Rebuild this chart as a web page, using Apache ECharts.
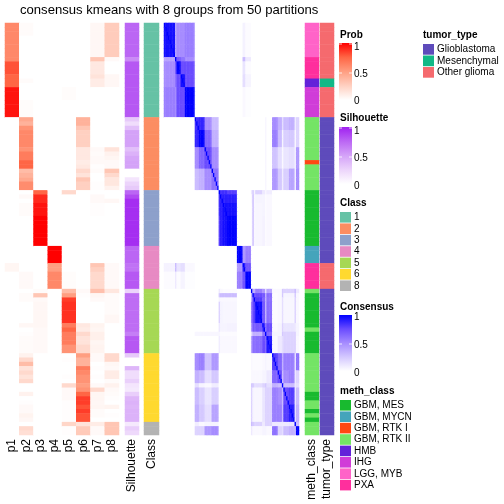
<!DOCTYPE html>
<html><head><meta charset="utf-8">
<style>html,body{margin:0;padding:0;background:#fff}#c{width:504px;height:504px}</style>
<script src="https://cdn.jsdelivr.net/npm/echarts@6/dist/echarts.min.js"></script>
</head><body><div id="c"></div>
<script>
const titleText = "consensus kmeans with 8 groups from 50 partitions";
const probNames = ["p1","p2","p3","p4","p5","p6","p7","p8"];
// one line per class block: rows 22 / 17 / 13 / 10 / 15 / 16 / 3
const p1 = [.6,.6,.6,.6,.6,.6,.6,.6,.6,.8,.8,.8,.75,.75,.75,.95,.95,.95,.95,.95,.95,.95,
 0,0,0,0,0,0,0,0,0,0,0,0,0,0,0,0,0,
 0,0,0,0,0,0,0,0,0,0,0,0,0,
 0,0,0,0,.05,.05,0,0,0,0,
 0,0,0,0,0,0,0,0,0,0,0,0,0,0,0,
 0,0,0,0,0,0,0,0,0,0,0,0,0,0,0,0,
 0,0,0];
const p2 = [.02,.02,.02,0,0,0,0,0,0,0,0,0,0,.02,0,0,0,0,.015,.015,.015,.015,
 .45,.4,.55,.6,.6,.6,.6,.55,.65,.65,.75,.75,.35,.4,.45,.58,.58,
 0,.03,0,.02,.02,.02,0,0,0,0,0,0,0,
 0,0,0,0,0,0,.03,.03,.03,.03,
 0,.02,.02,0,0,0,0,0,.04,0,.01,.02,.02,.02,.02,
 .07,.2,.35,.15,.2,.15,.2,0,0,.07,0,.01,.03,.03,.06,.04,
 0,.2,.17];
const p3 = [0,0,0,0,0,0,0,0,0,0,0,0,0,0,0,0,0,0,0,0,0,0,
 0,0,0,0,0,0,0,0,0,0,0,0,0,0,0,0,0,
 .75,.9,.9,.95,.95,.95,1,1,1,1,1,1,1,
 0,0,0,0,0,0,0,0,0,0,
 .02,.3,.03,.04,.04,.04,.04,.04,.04,.03,.03,.03,.03,.03,.03,
 0,0,0,0,0,0,0,0,0,0,0,0,0,0,0,0,
 0,0,0];
const p4 = [0,0,0,0,0,0,0,0,0,0,0,0,0,0,0,0,0,0,0,0,0,0,
 0,0,0,0,0,0,0,0,0,0,0,0,0,0,0,0,0,
 0,0,0,0,0,0,0,0,0,0,0,0,0,
 1,1,1,1,.5,.5,.6,.6,.6,.6,
 0,0,0,0,0,0,0,0,0,0,0,0,0,0,0,
 0,0,0,0,0,0,0,0,0,0,0,0,0,0,0,0,
 0,0,0];
const p5 = [0,0,0,0,0,0,0,0,0,0,0,0,0,0,0,.015,.015,.015,0,0,0,0,
 0,0,0,0,0,0,0,0,0,0,0,0,0,0,0,0,0,
 .2,0,0,0,0,0,0,0,0,0,0,0,0,
 0,0,0,0,0,0,.015,.015,.015,.015,
 .35,.5,.85,.88,.88,.88,.88,.88,.65,.75,.65,.65,.65,.55,.55,
 0,.01,0,0,0,.01,0,.2,.03,.03,.03,.01,.01,.01,.01,.01,
 .22,.01,.01];
const p6 = [0,0,0,0,0,0,0,0,0,0,0,0,0,0,0,0,0,0,0,0,0,0,
 .4,.4,.3,.25,.25,.25,.25,.12,.12,.12,.1,.12,.2,.15,.3,.25,.25,
 0,0,0,0,0,0,0,0,0,0,0,0,0,
 0,0,0,0,0,0,0,0,0,0,
 .03,.01,0,0,0,0,0,0,.12,.1,.2,.15,.15,.2,.2,
 .5,.4,.4,.65,.6,.55,.55,.5,.55,.75,.85,.85,.8,.85,.8,.8,
 .15,.28,.28];
const p7 = [.04,.04,.04,.04,.04,.04,.04,.04,.3,.12,.12,.12,.15,.1,.1,0,0,0,0,0,0,0,
 0,0,0,0,0,0,0,.03,.02,.03,.03,.01,.02,0,0,.01,.01,
 0,.03,.03,.01,.01,.01,0,0,0,0,0,0,0,
 0,0,0,0,.3,.25,.2,.2,.2,.2,
 .33,.05,.03,0,0,0,0,0,.06,.05,.08,.08,.05,.06,.06,
 .03,.03,0,.01,0,.01,0,.03,.2,.05,.05,.04,.05,.02,.02,0,
 .1,.03,.03];
const p8 = [.27,.27,.27,.27,.27,.27,.27,.27,.03,0,0,0,.04,.04,.04,0,0,0,0,0,0,0,
 0,0,0,0,0,0,0,.15,.07,.05,.03,.03,.3,.2,.13,.13,.07,
 0,0,.04,0,0,0,0,0,0,0,0,0,0,
 0,0,0,0,.03,.03,.03,.03,.03,.03,
 .13,.02,.02,.02,.02,.02,.04,.04,0,0,0,0,0,0,0,
 .2,.2,.04,.03,.1,.1,.02,.07,.03,.02,.01,0,.06,0,.01,0,
 .3,.3,.3];
const silhouette = [.75,.75,.75,.75,.75,.75,.75,.75,.6,.8,.8,.8,.8,.8,.8,.8,.8,.8,.8,.8,.8,.8,
 .3,.2,.35,.5,.5,.5,.5,.35,.42,.48,.5,.5,0,0,.15,.25,.3,
 .75,.85,.95,.95,.95,.95,.95,.95,.95,.95,.95,.95,.95,
 .75,.75,.75,.75,.7,.7,.8,.8,.8,.8,
 .25,.72,.72,.72,.72,.72,.72,.72,.72,.72,.65,.8,.8,.8,.8,
 .3,0,0,.4,.2,.2,.27,.15,.13,.28,.4,.42,.4,.42,.42,.42,
 .13,.28,.22];
const classNames = ["1","2","3","4","5","6","8"];
const classColors = ["#66C2A5","#FC8D62","#8DA0CB","#E78AC3","#A6D854","#FFD92F","#B3B3B3"];
const classSizes = [22,17,13,10,15,16,3];
const methNames = ["GBM, MES","GBM, MYCN","GBM, RTK I","GBM, RTK II","HMB","IHG","LGG, MYB","PXA"];
const methColors = ["#18BA2F","#45A4BB","#FF4713","#74E465","#6222D9","#D03CD8","#FF63C8","#FF2F9D"];
const methRuns = [[6,8],[7,5],[4,2],[5,7],[3,10],[2,1],[3,6],[0,13],[1,4],[7,6],[3,1],[0,8],[3,1],[0,5],[3,9],[0,2],[3,2],[0,1],[3,1],[0,1],[3,3]];
const tumorNames = ["Glioblastoma","Mesenchymal","Other glioma"];
const tumorColors = ["#5E4BBB","#12B886","#F56A6E"];
const tumorRuns = [[2,13],[1,2],[2,7],[0,34],[2,6],[0,34]];
// consensus matrix read as symmetric blocks of similar samples
const consensusGroupSizes = [8,1,3,3,7, 3,4,5,5, 1,2,3,7, 4,2,4, 1,1,1,5,2,1,4, 4,3,1,4,4, 1,2];
const consensusLower = [
 [.95],
 [.4,1],
 [.5,.7,.98],
 [.5,.6,.75,.95],
 [.55,.5,.75,.75,1],
 [0,0,0,0,0,.85],
 [0,0,0,0,0,.88,1],
 [0,0,0,0,0,.5,.65,.75],
 [0,0,0,0,0,.3,.35,.5,.6],
 [0,0,0,0,0,0,0,0,0,.8],
 [0,0,0,0,0,0,0,0,0,.85,.88],
 [0,0,0,0,0,0,0,0,0,.85,.9,.95],
 [0,0,0,0,0,0,0,0,0,.8,.9,.95,1],
 [0,0,0,0,0,0,0,0,0,0,0,0,0,1],
 [.06,.3,.12,.15,.03,0,0,0,0,0,0,0,0,.45,.9],
 [.02,.1,.02,.05,.01,0,0,0,0,0,0,0,0,.55,.72,1],
 [0,0,0,0,0,0,0,0,0,.1,.03,.02,.02,0,0,0,1],
 [0,0,0,0,0,0,0,0,0,.25,.3,.3,.3,0,0,0,.35,.9],
 [0,0,0,0,0,0,0,0,0,.05,.03,.03,.03,0,0,0,.35,.75,.9],
 [0,0,0,0,0,0,0,0,0,.2,.05,.04,.04,0,0,0,.55,.75,.8,.95],
 [0,0,0,0,0,0,0,0,0,.1,.05,.05,.06,0,0,0,.45,.7,.65,.7,.85],
 [0,0,0,0,0,.04,.04,.04,.04,.04,.02,.02,.02,0,0,0,.15,.35,.35,.35,.6,1],
 [0,0,0,0,0,0,0,0,0,.08,.03,.03,.03,0,0,0,.4,.62,.6,.62,.75,.65,.92],
 [0,0,0,0,0,.5,.55,.27,.45,0,0,0,0,0,0,0,.03,.02,.02,.02,.03,.05,.03,.8],
 [0,0,0,0,0,.35,.3,.15,.25,0,0,0,0,0,0,0,.03,.03,.03,.03,.05,.05,.1,.65,.75],
 [0,0,0,0,0,.15,.05,.03,.08,0,0,0,0,0,0,0,.25,.25,.15,.15,.2,.25,.15,.35,.3,1],
 [0,0,0,0,0,.3,.22,.12,.22,0,0,0,0,0,0,0,.2,.05,.04,.04,.12,.2,.2,.55,.5,.3,.75],
 [0,0,0,0,0,.35,.25,.15,.4,0,0,0,0,0,0,0,.2,.05,.04,.04,.12,.2,.2,.55,.55,.3,.8,.9],
 [0,0,0,0,0,.08,.03,.05,.05,0,0,0,0,0,0,0,.3,.25,.2,.2,.1,.2,.2,.1,.1,.1,.1,.12,1],
 [0,0,0,0,0,.2,.2,.45,.5,0,0,0,0,0,0,0,.1,.03,.03,.03,.05,.05,.03,.6,.2,.15,.3,.35,.3,1]
];
const probStops = ["#ffffff","#ffd0c1","#ff9e81","#ff6645","#ff0000"];
const silStops = ["#ffffff","#ecd4fb","#d4a2f8","#bb66f4","#a020f0"];
const consStops = ["#ffffff","#d4c8ff","#a68cff","#6a4cff","#0000ff"];

const FONT = '"Liberation Sans", Arial, sans-serif';
const expand = runs => runs.flatMap(([k, n]) => Array(n).fill(k));
const classIdx = expand(classSizes.map((n, k) => [k, n]));
const methIdx = expand(methRuns), tumorIdx = expand(tumorRuns);
const N = classIdx.length;
const rows = classIdx.map((_, i) => "s" + i);
const groupOf = expand(consensusGroupSizes.map((n, k) => [k, n]));
const consensusAt = (i, j) => {
  if (i === j) return 1;
  const a = Math.max(groupOf[i], groupOf[j]), b = Math.min(groupOf[i], groupOf[j]);
  return consensusLower[a][b];
};
const TOP = 23, H = 412;
const grids = [], xAxes = [], yAxes = [], series = [];
function panel(left, width, cols, data, showLabels) {
  const k = grids.length;
  grids.push({left, width, top: TOP, height: H, containLabel: false});
  xAxes.push({type: "category", gridIndex: k, data: cols, axisLine: {show: false}, axisTick: {show: false},
    splitLine: {show: false}, axisLabel: {show: showLabels, rotate: 90, interval: 0, margin: 4, color: "#000", fontSize: 12, fontFamily: FONT, padding: [2, 0, 0, 0]}});
  yAxes.push({type: "category", gridIndex: k, data: rows, inverse: true, axisLine: {show: false}, axisTick: {show: false},
    splitLine: {show: false}, axisLabel: {show: false}});
  series.push({type: "heatmap", xAxisIndex: k, yAxisIndex: k, data, progressive: 0, animation: false, silent: true,
    emphasis: {disabled: true}, itemStyle: {borderWidth: 0}});
  return k;
}
const probVals = [p1, p2, p3, p4, p5, p6, p7, p8];
const probData = [];
probVals.forEach((a, c) => a.forEach((v, r) => probData.push([c, r, v])));
const silData = silhouette.map((v, r) => [0, r, v]);
const catData = (idx, cols) => idx.map((k, r) => ({value: [0, r, k], itemStyle: {color: cols[k]}}));
const consData = [];
const consCols = rows.map((_, i) => "c" + i);
for (let i = 0; i < N; i++) for (let j = 0; j < N; j++) consData.push([j, i, consensusAt(i, j)]);

const sP = panel(5, 114, probNames, probData, true);
const sS = panel(125, 14, ["Silhouette"], silData, true);
panel(144, 15, ["Class"], catData(classIdx, classColors), true);
const sC = panel(164, 135, consCols, consData, false);
panel(305, 14, ["meth_class"], catData(methIdx, methColors), true);
panel(320, 14, ["tumor_type"], catData(tumorIdx, tumorColors), true);

const vm = (idx, color) => ({type: "continuous", show: false, seriesIndex: idx, min: 0, max: 1, inRange: {color}});

const g = [];
const txt = (x, y, text, bold, size) => g.push({type: "text", silent: true, style: {x, y, text, fill: "#000",
  font: (bold ? "bold " : "") + (size || 10) + "px " + FONT, textAlign: "left", textVerticalAlign: "middle"}});
function bar(title, titleY, top, bottom, stops, ys) {
  txt(340, titleY, title, true);
  g.push({type: "rect", silent: true, shape: {x: 339, y: top, width: 13, height: bottom - top},
    style: {fill: new echarts.graphic.LinearGradient(0, 0, 0, 1, stops.slice().reverse().map((c, i) => ({offset: i / 4, color: c})))}});
  ["1", "0.5", "0"].forEach((t, i) => {
    txt(354, ys[i], t);
    if (i < 2) {
      const y = ys[i] - (i === 0 ? 3 : 1);
      [[339, 342], [349, 352]].forEach(([a, b]) => g.push({type: "line", silent: true,
        shape: {x1: a, y1: y, x2: b, y2: y}, style: {stroke: "rgba(255,255,255,.8)", lineWidth: 1}}));
    }
  });
}
function swatches(title, titleX, titleY, top, pitch, names, colors) {
  txt(titleX, titleY, title, true);
  names.forEach((n, i) => {
    g.push({type: "rect", silent: true, shape: {x: titleX, y: top + i * pitch, width: 11, height: pitch - .8}, style: {fill: colors[i]}});
    txt(titleX + 14, top + i * pitch + 5.5, n);
  });
}
bar("Prob", 35, 43, 100, probStops, [47, 74, 101]);
bar("Silhouette", 118, 127, 184, silStops, [131, 158, 186]);
swatches("Class", 340, 203, 212, 11.4, classNames, classColors);
bar("Consensus", 307, 315, 371, consStops, [317, 345, 373]);
swatches("meth_class", 340, 391, 400, 11.4, methNames, methColors);
swatches("tumor_type", 423, 35, 44, 11.5, tumorNames, tumorColors);

const chart = echarts.init(document.getElementById("c"), null, {renderer: "canvas"});
chart.setOption({
  animation: false, backgroundColor: "#fff",
  title: {text: titleText, left: 20, top: 4, padding: 0, textStyle: {fontFamily: FONT, fontSize: 13.1, fontWeight: "normal", color: "#000"}},
  grid: grids, xAxis: xAxes, yAxis: yAxes, series,
  visualMap: [vm(sP, probStops), vm(sS, silStops), vm(sC, consStops)],
  graphic: g
});
</script></body></html>
